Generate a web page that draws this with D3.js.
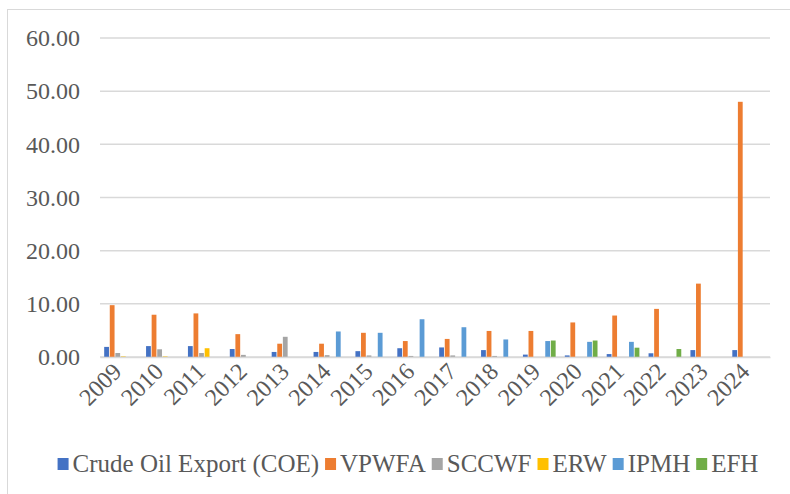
<!DOCTYPE html>
<html>
<head>
<meta charset="utf-8">
<style>
  body { margin: 0; background: #fff; }
  text { font-family: "Liberation Serif", "Times New Roman", serif; fill: #595959; }
</style>
</head>
<body>
<script src="https://d3js.org/d3.v7.min.js"></script>
<script>
    const years = ["2009", "2010", "2011", "2012", "2013", "2014", "2015", "2016",
        "2017", "2018", "2019", "2020", "2021", "2022", "2023", "2024"];
    const seriesNames = ["Crude Oil Export (COE)", "VPWFA", "SCCWF", "ERW", "IPMH", "EFH"];
    const coe = [1.9, 2.05, 2.05, 1.5, 0.95, 0.95, 1.1, 1.65, 1.8, 1.3, 0.45, 0.3, 0.55, 0.7, 1.3, 1.3];
    const vpwfa = [9.75, 7.95, 8.2, 4.3, 2.5, 2.5, 4.55, 3.0, 3.4, 4.9, 4.9, 6.5, 7.8, 9.05, 13.8, 48.0];
    const sccwf = [0.75, 1.45, 0.75, 0.4, 3.8, 0.35, 0.3, 0.2, 0.3, 0.2, 0, 0, 0, 0, 0, 0];
    const erw = [0.1, 0.1, 1.65, 0, 0, 0, 0, 0, 0, 0, 0, 0, 0, 0, 0, 0];
    const ipmh = [0, 0, 0, 0, 0, 4.8, 4.55, 7.1, 5.6, 3.3, 3.0, 2.85, 2.85, 0, 0, 0];
    const efh = [0, 0, 0, 0, 0, 0, 0, 0, 0, 0, 3.1, 3.1, 1.75, 1.5, 0, 0];
    const yTicks = [0, 10, 20, 30, 40, 50, 60];
    const colors = ["#4472C4", "#ED7D31", "#A5A5A5", "#FFC000", "#5B9BD5", "#70AD47"];

    const allSeries = [coe, vpwfa, sccwf, erw, ipmh, efh];

    const width = 790;
    const height = 494;
    const plotLeft = 100, plotRight = 770, plotTop = 38, plotBottom = 357;

    const svg = d3.select("body")
        .append("svg")
        .attr("width", width)
        .attr("height", height);

    // chart frame
    svg.append("rect")
        .attr("x", 7.5).attr("y", 9.5)
        .attr("width", 800).attr("height", 500)
        .attr("fill", "none")
        .attr("stroke", "#d9d9d9");

    const xScale = d3.scaleBand()
        .domain(years)
        .range([plotLeft, plotRight]);

    const bw = xScale.bandwidth() / 7.5;
    const xInner = d3.scaleBand()
        .domain(d3.range(seriesNames.length))
        .range([bw * 0.75, xScale.bandwidth() - bw * 0.75]);

    const yScale = d3.scaleLinear()
        .domain([0, 60])
        .range([plotBottom, plotTop]);

    // gridlines
    svg.append("g")
        .selectAll("line")
        .data(yTicks)
        .enter()
        .append("line")
        .attr("x1", plotLeft)
        .attr("x2", plotRight)
        .attr("y1", d => yScale(d))
        .attr("y2", d => yScale(d))
        .attr("stroke", "#d9d9d9")
        .attr("stroke-width", 1.5);

    const yAxis = d3.axisLeft(yScale)
        .tickValues(yTicks)
        .tickFormat(d3.format(".2f"))
        .tickSize(0)
        .tickPadding(20);

    svg.append("g")
        .attr("transform", "translate(" + plotLeft + ",0)")
        .call(yAxis)
        .call(g => g.select(".domain").remove())
        .selectAll("text")
        .style("font-size", "24px")
        .style("fill", "#595959");

    // bars
    const groups = svg.append("g")
        .selectAll("g")
        .data(allSeries)
        .enter()
        .append("g")
        .attr("fill", (d, i) => colors[i]);

    groups.each(function (values, si) {
        const pts = values
            .map((v, i) => ({ year: years[i], value: v }))
            .filter(d => d.value > 0);
        d3.select(this)
            .selectAll("rect")
            .data(pts)
            .enter()
            .append("rect")
            .attr("x", d => xScale(d.year) + xInner(si))
            .attr("y", d => yScale(d.value))
            .attr("width", xInner.bandwidth() - 0.8)
            .attr("height", d => plotBottom - yScale(d.value));
    });

    // x axis
    const xAxis = d3.axisBottom(xScale).tickSize(0).tickPadding(0);
    const xg = svg.append("g")
        .attr("transform", "translate(0," + plotBottom + ")")
        .call(xAxis);
    xg.select(".domain")
        .attr("stroke", "#d9d9d9")
        .attr("stroke-width", 1.5);
    xg.selectAll("text")
        .style("font-size", "24px")
        .style("fill", "#595959")
        .attr("text-anchor", "end")
        .attr("dy", 0)
        .attr("transform", "translate(2,16) rotate(-45)");

    // legend
    const legend = svg.append("g");
    let lx = 0;
    seriesNames.forEach((name, i) => {
        legend.append("rect")
            .attr("x", lx).attr("y", -6)
            .attr("width", 11).attr("height", 12)
            .attr("fill", colors[i]);
        const t = legend.append("text")
            .attr("x", lx + 15)
            .attr("y", 8)
            .style("font-size", "25px")
            .text(name);
        lx += 15 + t.node().getComputedTextLength() + 6;
    });
    lx -= 6;
    legend.attr("transform", "translate(" + (408 - lx / 2) + ",464)");
</script>
</body>
</html>
